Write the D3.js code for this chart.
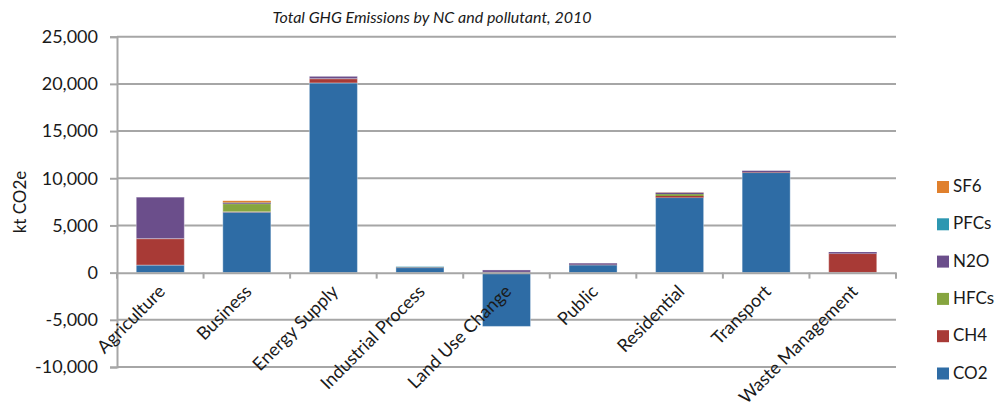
<!DOCTYPE html>
<html>
<head>
<meta charset="utf-8">
<script src="https://cdn.jsdelivr.net/npm/d3@7"></script>
<style>
  body { margin: 0; background: #fff; }
  svg text { font-family: Lato, "Open Sans", sans-serif; fill: #1a1a1a; }
</style>
</head>
<body>
<div id="chart"></div>
<script>
// Data (kt CO2e)
const categories = ['Agriculture', 'Business', 'Energy Supply', 'Industrial Process',
  'Land Use Change', 'Public', 'Residential', 'Transport', 'Waste Management']
const pollutants = ['CO2', 'CH4', 'HFCs', 'N2O', 'PFCs', 'SF6']
const co2  = [800, 6400, 20100, 520, -5700, 800, 7950, 10600, 20]
const ch4  = [2800, 50, 450, 0, 40, 40, 170, 50, 2000]
const hfcs = [0, 850, 0, 30, 0, 0, 200, 0, 0]
const n2o  = [4400, 100, 250, 40, 240, 150, 160, 150, 160]
const pfcs = [0, 30, 0, 40, 0, 0, 0, 0, 0]
const sf6  = [0, 180, 0, 0, 0, 0, 20, 0, 0]
const yTicks = [-10000, -5000, 0, 5000, 10000, 15000, 20000, 25000]
const colors = ['#2e6ca5', '#a83a36', '#86a53f', '#6b4e8b', '#2d97b1', '#e0802d']

const seriesValues = [co2, ch4, hfcs, n2o, pfcs, sf6]
const dataset = categories.map((name, i) => {
  const row = { name }
  pollutants.forEach((p, j) => { row[p] = seriesValues[j][i] })
  return row
})

// Dimensions
const dimensions = {
  width: 995,
  height: 416,
  left: 117,
  right: 896,
  top: 36.7,
  bottom: 367,
}

const svg = d3.select('#chart')
  .append('svg')
  .attr('width', dimensions.width)
  .attr('height', dimensions.height)

// Scales
const xScale = d3.scaleBand()
  .domain(categories)
  .range([dimensions.left, dimensions.right])
  .paddingInner(0.445)
  .paddingOuter(0.2225)

const xTickScale = d3.scaleBand()
  .domain(categories)
  .range([dimensions.left, dimensions.right])

const yScale = d3.scaleLinear()
  .domain([-10000, 25000])
  .range([dimensions.bottom, dimensions.top])

const colorScale = d3.scaleOrdinal()
  .domain(pollutants)
  .range(colors)

// Gridlines + y axis
const fmt = d3.format(',')
const yAxis = d3.axisLeft(yScale)
  .tickValues(yTicks)
  .tickFormat(d => fmt(d).replace('\u2212', '-'))
  .tickSize(7)
  .tickPadding(12)

const yAxisGroup = svg.append('g')
  .attr('transform', `translate(${dimensions.left},0)`)
  .call(yAxis)

yAxisGroup.select('.domain').attr('stroke', '#a6a6a6').attr('stroke-width', 2)
yAxisGroup.selectAll('.tick line').attr('stroke', '#a6a6a6').attr('stroke-width', 2)
yAxisGroup.selectAll('.tick text')
  .style('font-size', '18px')
  .attr('fill', '#1a1a1a')

svg.append('g')
  .selectAll('line')
  .data(yTicks.filter(d => d !== 0))
  .join('line')
  .attr('x1', dimensions.left)
  .attr('x2', dimensions.right)
  .attr('y1', d => yScale(d))
  .attr('y2', d => yScale(d))
  .attr('stroke', '#a6a6a6')
  .attr('stroke-width', 2)

// Stacked bars
const stack = d3.stack()
  .keys(pollutants)
  .offset(d3.stackOffsetDiverging)

const layers = stack(dataset)

svg.append('g')
  .selectAll('g')
  .data(layers)
  .join('g')
  .attr('fill', d => colorScale(d.key))
  .selectAll('rect')
  .data(d => d)
  .join('rect')
  .attr('x', d => xScale(d.data.name))
  .attr('width', xScale.bandwidth())
  .attr('y', d => yScale(Math.max(d[0], d[1])))
  .attr('height', d => Math.abs(yScale(d[0]) - yScale(d[1])))
  .attr('stroke', 'rgba(255,255,255,0.35)')
  .attr('stroke-width', d => Math.abs(yScale(d[0]) - yScale(d[1])) > 2 ? 1 : 0)

// Category axis at zero
const xAxis = d3.axisBottom(xTickScale)
  .tickSize(0)
  .tickFormat('')

const xAxisGroup = svg.append('g')
  .attr('transform', `translate(0,${yScale(0)})`)
  .call(xAxis)

xAxisGroup.select('.domain').attr('stroke', '#a6a6a6').attr('stroke-width', 2)

const tickXs = d3.range(categories.length + 1).map(i => dimensions.left + i * xTickScale.step())
xAxisGroup.selectAll('.sep')
  .data(tickXs)
  .join('line')
  .attr('class', 'sep')
  .attr('x1', d => d)
  .attr('x2', d => d)
  .attr('y1', 0)
  .attr('y2', 6)
  .attr('stroke', '#a6a6a6')
  .attr('stroke-width', 2)

xAxisGroup.selectAll('.cat')
  .data(categories)
  .join('text')
  .attr('class', 'cat')
  .attr('text-anchor', 'end')
  .attr('transform', d => `translate(${xTickScale(d) + xTickScale.bandwidth() / 2 + 6},${20}) rotate(-45)`)
  .style('font-size', '18px')
  .text(d => d)

// Title
svg.append('text')
  .attr('x', 432)
  .attr('y', 23)
  .attr('text-anchor', 'middle')
  .style('font-size', '16px')
  .style('font-style', 'italic')
  .text('Total GHG Emissions by NC and pollutant, 2010')

// Y axis title
svg.append('text')
  .attr('transform', 'translate(26,202) rotate(-90)')
  .attr('text-anchor', 'middle')
  .style('font-size', '17px')
  .text('kt CO2e')

// Legend
const legend = svg.append('g')
  .selectAll('g')
  .data(pollutants.slice().reverse())
  .join('g')
  .attr('transform', (d, i) => `translate(937,${181 + i * 37.3})`)

legend.append('rect')
  .attr('width', 12)
  .attr('height', 12)
  .attr('fill', d => colorScale(d))

legend.append('text')
  .attr('x', 16)
  .attr('y', 11)
  .style('font-size', '17px')
  .text(d => d)
</script>
</body>
</html>
